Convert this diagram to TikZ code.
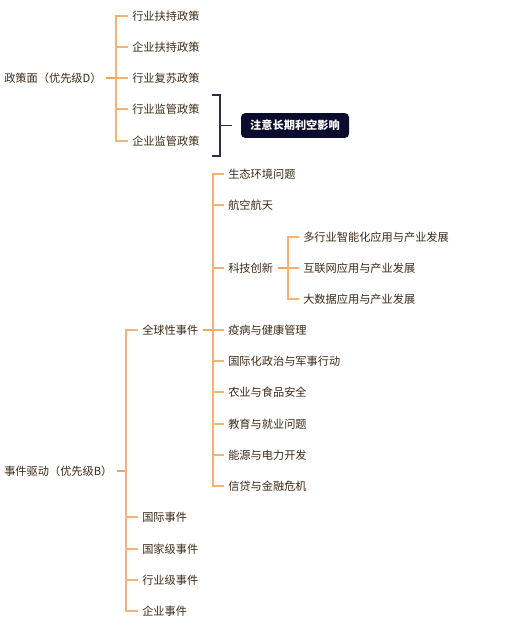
\documentclass[tikz,border=0pt]{standalone}
\usepackage{fontspec}
\setmainfont{Noto Sans CJK SC}
\usetikzlibrary{positioning}
\definecolor{mindorange}{HTML}{F5A35A}
\definecolor{mindbrown}{HTML}{3C2A18}
\definecolor{mindnavy}{HTML}{0B0B2E}
\definecolor{bracketnavy}{HTML}{2B2B4A}
\tikzset{leaf/.style={anchor=west,inner sep=0pt,text=mindbrown,font=\fontsize{8.4pt}{10pt}\selectfont},
         root/.style={leaf},
         stem/.style={draw=mindorange,line width=1.6pt},
         line/.style={draw=mindorange!85,line width=1.1pt},
         bracket/.style={draw=bracketnavy,line width=1.1pt},
         note/.style={fill=mindnavy,rounded corners=3pt,text=white,minimum width=81pt,minimum height=18.5pt,inner sep=0pt,font=\fontsize{8.4pt}{10pt}\selectfont\bfseries}
}
\begin{document}
\begin{tikzpicture}[x=0.75pt,y=-0.75pt]
  \useasboundingbox (0,0) rectangle (509,633);
  % policy side
  \node[root] (p) at (4,78) {政策面（优先级D）};
  \node[leaf] (p1) at (132,16) {行业扶持政策};
  \node[leaf] (p2) at (132,47) {企业扶持政策};
  \node[leaf] (p3) at (132,78) {行业复苏政策};
  \node[leaf] (p4) at (132,109) {行业监管政策};
  \node[leaf] (p5) at (132,141) {企业监管政策};
  \node[note] (n) at (295,125.5) {注意长期利空影响};
  \coordinate (ps) at (106,78);
  \coordinate (pj) at (116,78);
  \draw[stem] (ps) -- (pj);
  \draw[line] (pj) |- ([xshift=-3pt]p1.west);
  \draw[line] (pj) |- ([xshift=-3pt]p2.west);
  \draw[line] (pj) -- ([xshift=-3pt]p3.west);
  \draw[line] (pj) |- ([xshift=-3pt]p4.west);
  \draw[line] (pj) |- ([xshift=-3pt]p5.west);
  \coordinate (bt) at (212,95);
  \coordinate (bb) at (212,156);
  \coordinate (bm) at (220,125.5);
  \draw[bracket] (bt) -| (bm) |- (bb);
  \draw[bracket] (bm) -- ++(12,0);
  % event side
  \node[root] (e) at (4,471) {事件驱动（优先级B）};
  \node[leaf] (g) at (142,330) {全球性事件};
  \node[leaf] (e2) at (142,517) {国际事件};
  \node[leaf] (e3) at (142,549) {国家级事件};
  \node[leaf] (e4) at (142,580) {行业级事件};
  \node[leaf] (e5) at (142,611) {企业事件};
  \coordinate (es) at (117,471);
  \coordinate (ej) at (126,471);
  \draw[stem] (es) -- (ej);
  \draw[line] (ej) |- ([xshift=-3pt]g.west);
  \draw[line] (ej) |- ([xshift=-3pt]e2.west);
  \draw[line] (ej) |- ([xshift=-3pt]e3.west);
  \draw[line] (ej) |- ([xshift=-3pt]e4.west);
  \draw[line] (ej) |- ([xshift=-3pt]e5.west);
  % global events
  \node[leaf] (g1) at (228,174) {生态环境问题};
  \node[leaf] (g2) at (228,205) {航空航天};
  \node[leaf] (t) at (228,268) {科技创新};
  \node[leaf] (g4) at (228,330) {疫病与健康管理};
  \node[leaf] (g5) at (228,361) {国际化政治与军事行动};
  \node[leaf] (g6) at (228,392) {农业与食品安全};
  \node[leaf] (g7) at (228,424) {教育与就业问题};
  \node[leaf] (g8) at (228,455) {能源与电力开发};
  \node[leaf] (g9) at (228,486) {信贷与金融危机};
  \coordinate (gs) at (203,330);
  \coordinate (gj) at (213,330);
  \draw[stem] (gs) -- (gj);
  \draw[line] (gj) |- ([xshift=-3pt]g1.west);
  \draw[line] (gj) |- ([xshift=-3pt]g2.west);
  \draw[line] (gj) |- ([xshift=-3pt]t.west);
  \draw[line] (gj) -- ([xshift=-3pt]g4.west);
  \draw[line] (gj) |- ([xshift=-3pt]g5.west);
  \draw[line] (gj) |- ([xshift=-3pt]g6.west);
  \draw[line] (gj) |- ([xshift=-3pt]g7.west);
  \draw[line] (gj) |- ([xshift=-3pt]g8.west);
  \draw[line] (gj) |- ([xshift=-3pt]g9.west);
  % technology
  \node[leaf] (t1) at (303,237) {多行业智能化应用与产业发展};
  \node[leaf] (t2) at (303,268) {互联网应用与产业发展};
  \node[leaf] (t3) at (303,299) {大数据应用与产业发展};
  \coordinate (ts) at (278,268);
  \coordinate (tj) at (288,268);
  \draw[stem] (ts) -- (tj);
  \draw[line] (tj) |- ([xshift=-3pt]t1.west);
  \draw[line] (tj) -- ([xshift=-3pt]t2.west);
  \draw[line] (tj) |- ([xshift=-3pt]t3.west);
\end{tikzpicture}
\end{document}
